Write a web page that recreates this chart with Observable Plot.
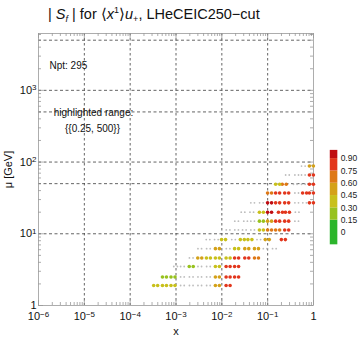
<!DOCTYPE html>
<html><head><meta charset="utf-8">
<script src="https://cdn.jsdelivr.net/npm/d3@7"></script>
<script src="https://cdn.jsdelivr.net/npm/@observablehq/plot@0.6"></script>
<style>
body{margin:0;background:#fff;font-family:"Liberation Sans",Arial,sans-serif;}
#wrap{position:relative;width:360px;height:340px;overflow:hidden;}
#title{height:26px;font-size:14.5px;line-height:28px;white-space:nowrap;padding-left:48px;color:#111;}
#title .sb{font-size:9px;position:relative;top:3px;}
#title .sp{font-size:9px;position:relative;top:-6px;}
#legend{position:absolute;left:326px;top:148px;}
#chart svg, #legend svg{display:block;}
</style></head><body>
<div id="wrap">
<div id="title">| <i>S</i><span class="sb"><i>f</i></span> | for ⟨<i>x</i><span class="sp">1</span>⟩<i>u</i><span class="sb">+</span>, LHeCEIC250−cut</div>
<div id="chart"></div>
<div id="legend"></div>
</div>
<script>
// ---- data (x, mu [GeV], |Sf|) ----
const xVals = [
  3.6e-4, 5.6e-4, 8.6e-4, 1.38e-3, 2.15e-3, 3.3e-3, 5.1e-3, 8.0e-3, 0.0137,
  5.6e-4, 8.6e-4, 1.38e-3, 2.15e-3, 3.3e-3, 5.1e-3, 8.0e-3, 0.0137, 0.021,
  9.8e-4, 1.38e-3, 2.15e-3, 3.3e-3, 5.1e-3, 8.0e-3, 0.0137, 0.021,
  2.15e-3, 3.3e-3, 5.1e-3, 8.0e-3, 0.0137, 0.021, 0.035, 0.057,
  3.3e-3, 5.1e-3, 8.0e-3, 0.0137, 0.021, 0.035, 0.057, 0.088, 0.14,
  5.0e-3, 7.6e-3, 0.0109, 0.018, 0.028, 0.041, 0.064, 0.098, 0.22,
  0.0137, 0.021, 0.031, 0.047, 0.073, 0.11, 0.165, 0.26,
  0.021, 0.033, 0.047, 0.073, 0.11, 0.165, 0.26, 0.43,
  0.029, 0.045, 0.073, 0.11, 0.19, 0.27, 0.44,
  0.047, 0.073, 0.11, 0.165, 0.26, 0.43, 0.64, 0.9,
  0.11, 0.165, 0.26, 0.43, 0.64, 0.9,
  0.165, 0.23, 0.40, 0.60, 0.9,
  0.27, 0.43, 0.60, 0.9,
  0.60, 0.9
];
const muVals = [
  1.9, 1.9, 1.9, 1.9, 1.9, 1.9, 1.9, 1.9, 1.9,
  2.5, 2.5, 2.5, 2.5, 2.5, 2.5, 2.5, 2.5, 2.5,
  3.5, 3.5, 3.5, 3.5, 3.5, 3.5, 3.5, 3.5,
  4.6, 4.6, 4.6, 4.6, 4.6, 4.6, 4.6, 4.6,
  6.2, 6.2, 6.2, 6.2, 6.2, 6.2, 6.2, 6.2, 6.2,
  8.3, 8.3, 8.3, 8.3, 8.3, 8.3, 8.3, 8.3, 8.3,
  11.3, 11.3, 11.3, 11.3, 11.3, 11.3, 11.3, 11.3,
  15, 15, 15, 15, 15, 15, 15, 15,
  20, 20, 20, 20, 20, 20, 20,
  27, 27, 27, 27, 27, 27, 27, 27,
  37, 37, 37, 37, 37, 37,
  49, 49, 49, 49, 49,
  66, 66, 66, 66,
  88, 88
];
const sfVals = [
  0.38, 0.40, 0.36, 0.12, 0.10, 0.14, 0.18, 0.50, 0.84,
  0.27, 0.28, 0.15, 0.12, 0.10, 0.16, 0.48, 0.82, 0.80,
  0.12, 0.18, 0.28, 0.20, 0.15, 0.40, 0.85, 0.83,
  0.14, 0.53, 0.42, 0.39, 0.42, 0.83, 0.81, 0.70,
  0.16, 0.12, 0.50, 0.18, 0.40, 0.55, 0.58, 0.15, 0.12,
  0.13, 0.11, 0.40, 0.14, 0.36, 0.38, 0.13, 0.52, 0.84,
  0.12, 0.15, 0.11, 0.18, 0.36, 0.66, 0.70, 0.82,
  0.10, 0.14, 0.12, 0.29, 0.50, 0.80, 0.86, 0.12,
  0.13, 0.16, 0.42, 0.94, 0.83, 0.85, 0.14,
  0.11, 0.15, 0.95, 0.86, 0.84, 0.16, 0.13, 0.88,
  0.68, 0.83, 0.87, 0.12, 0.85, 0.89,
  0.40, 0.72, 0.14, 0.18, 0.86,
  0.12, 0.15, 0.11, 0.83,
  0.13, 0.55
];
const highlightMin = 0.25;
const nPoints = 295;

// colour bar
const bandEdges = [-0.15, 0.15, 0.30, 0.45, 0.60, 0.75, 0.90, 1.0];
const bandColors = ["#2cb52c", "#97c21e", "#c8c01a", "#d4a118", "#de7816", "#e2361c", "#bf0d12"];
const legendTicks = [0, 0.15, 0.30, 0.45, 0.60, 0.75, 0.90];

// axes
const xTicks = [1e-6, 1e-5, 1e-4, 1e-3, 1e-2, 1e-1, 1];
const yTicks = [1, 10, 100, 1000];
const gridX = [1e-5, 1e-4, 1e-3, 1e-2, 1e-1];
const gridY = [10, 50, 100, 500, 1000, 5000];
const xDomain = [1e-6, 1];
const yDomain = [1, 6200];

const fmtPow = d => { const e = Math.round(Math.log10(d)); return e === 0 ? "1" : "10^" + String(e).replace("-", "−"); };

const data = xVals.map((x, i) => ({x, mu: muVals[i], sf: sfVals[i]}));
const lo = data.filter(d => d.sf < highlightMin);
const hi = data.filter(d => d.sf >= highlightMin);

// minor ticks
const minorX = [], majorX = xTicks.slice();
for (let e = -6; e < 0; e++) for (let k = 2; k <= 9; k++) minorX.push(k * 10 ** e);
const minorY = [];
for (let e = 0; e < 4; e++) for (let k = 2; k <= 9; k++) { const v = k * 10 ** e; if (v < yDomain[1]) minorY.push(v); }

const W = 360, H = 314, mL = 38, mR = 47, mT = 7, mB = 35;
const pxX = (Math.log10(xDomain[1]) - Math.log10(xDomain[0])) / (W - mL - mR);
const pxY = (Math.log10(yDomain[1]) - Math.log10(yDomain[0])) / (H - mT - mB);
const fx = n => 10 ** (n * pxX), fy = n => 10 ** (n * pxY);
const tickCol = "#8a8a8a";

const marks = [
  Plot.ruleX(gridX, {stroke: "#3c3c3c", strokeDasharray: "2.5,2.5", strokeWidth: 0.8}),
  Plot.ruleY(gridY, {stroke: "#3c3c3c", strokeDasharray: "3,2.5", strokeWidth: 0.8}),
  Plot.ruleX(minorX, {x: d => d, y1: yDomain[0], y2: yDomain[0] * fy(3), stroke: tickCol, strokeWidth: 0.7}),
  Plot.ruleX(minorX, {x: d => d, y1: yDomain[1], y2: yDomain[1] / fy(3), stroke: tickCol, strokeWidth: 0.7}),
  Plot.ruleX(majorX, {x: d => d, y1: yDomain[0], y2: yDomain[0] * fy(5), stroke: tickCol, strokeWidth: 0.7}),
  Plot.ruleX(majorX, {x: d => d, y1: yDomain[1], y2: yDomain[1] / fy(5), stroke: tickCol, strokeWidth: 0.7}),
  Plot.ruleY(minorY, {y: d => d, x1: xDomain[0], x2: xDomain[0] * fx(3), stroke: tickCol, strokeWidth: 0.7}),
  Plot.ruleY(minorY, {y: d => d, x1: xDomain[1], x2: xDomain[1] / fx(3), stroke: tickCol, strokeWidth: 0.7}),
  Plot.ruleY(yTicks, {y: d => d, x1: xDomain[0], x2: xDomain[0] * fx(5), stroke: tickCol, strokeWidth: 0.7}),
  Plot.ruleY(yTicks, {y: d => d, x1: xDomain[1], x2: xDomain[1] / fx(5), stroke: tickCol, strokeWidth: 0.7}),
  Plot.frame({stroke: "#9a9a9a", strokeWidth: 0.8}),
  Plot.dot(lo, {x: "x", y: "mu", r: 0.9, fill: "#bdbdbd", dx: -1.8}),
  Plot.dot(lo, {x: "x", y: "mu", r: 0.9, fill: "#bdbdbd", dx: 1.8}),
  Plot.dot(hi, {x: "x", y: "mu", r: 1.8, fill: "sf", dx: -2}),
  Plot.dot(hi, {x: "x", y: "mu", r: 1.8, fill: "sf", dx: 2}),
  Plot.text([`Npt: ${nPoints}`], {frameAnchor: "top-left", dx: 11, dy: 28, textAnchor: "start", fontSize: 10, fill: "#111"}),
  Plot.text(["highlighted range:"], {frameAnchor: "top-left", dx: 55, dy: 75, textAnchor: "middle", fontSize: 10, fill: "#111"}),
  Plot.text([`{{${highlightMin}, 500}}`], {frameAnchor: "top-left", dx: 54, dy: 91, textAnchor: "middle", fontSize: 10, fill: "#111"}),
  Plot.axisX({ticks: xTicks, tickFormat: fmtPow, tickSize: 0, tickPadding: 7, fontSize: 11, label: "x", labelAnchor: "center", labelArrow: "none", labelOffset: 29, color: "#111"}),
  Plot.axisY({ticks: yTicks, tickFormat: fmtPow, tickSize: 0, tickPadding: 2, fontSize: 11, label: "μ [GeV]", labelAnchor: "center", labelArrow: "none", labelOffset: 34, color: "#111"})
];

const chart = Plot.plot({
  width: W, height: H,
  marginLeft: mL, marginRight: mR, marginTop: mT, marginBottom: mB,
  style: {fontFamily: "'Liberation Sans', Arial, sans-serif", background: "#fff", color: "#111"},
  x: {type: "log", domain: xDomain},
  y: {type: "log", domain: yDomain},
  color: {type: "threshold", domain: bandEdges.slice(1, -1), range: bandColors},
  marks
});
// render "10^e" tick labels with real superscripts
d3.select(chart).selectAll("text").each(function() {
  const t = this.textContent;
  const m = /^10\^(.+)$/.exec(t);
  if (!m) return;
  const sel = d3.select(this);
  sel.text(null);
  sel.append("tspan").text("10");
  sel.append("tspan").attr("dy", "-0.45em").attr("font-size", "8px").text(m[1]);
});
document.getElementById("chart").appendChild(chart);

// colour bar legend
const bands = bandColors.map((c, i) => ({y1: bandEdges[i], y2: bandEdges[i + 1], c}));
const legend = Plot.plot({
  width: 36, height: 104,
  marginLeft: 4, marginRight: 24, marginTop: 2, marginBottom: 2,
  style: {fontFamily: "'Liberation Sans', Arial, sans-serif", background: "transparent", color: "#222"},
  x: {domain: [0, 1], axis: null},
  y: {domain: [bandEdges[0], bandEdges[bandEdges.length - 1]]},
  marks: [
    Plot.rect(bands, {x1: 0, x2: 1, y1: "y1", y2: "y2", fill: "c"}),
    Plot.axisY({anchor: "right", ticks: legendTicks, tickFormat: d => d === 0 ? "0" : d3.format(".2f")(d), tickSize: 0, tickPadding: 3, fontSize: 9, label: null})
  ]
});
document.getElementById("legend").appendChild(legend);
</script>
</body></html>
